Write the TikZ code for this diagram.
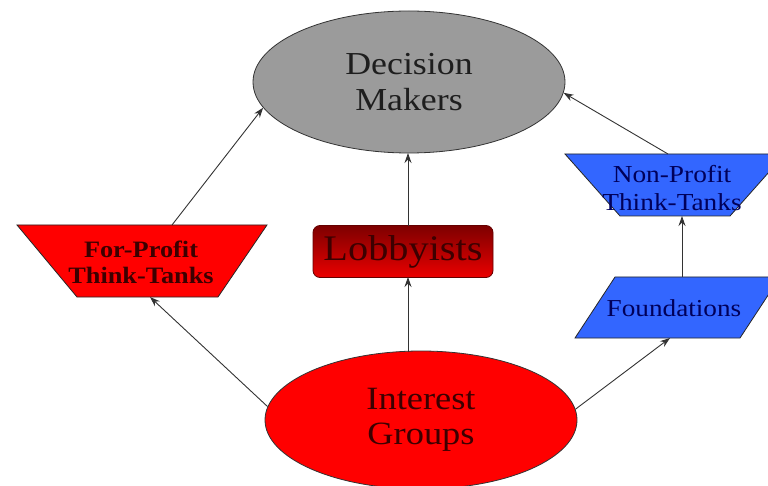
\documentclass[tikz,border=0pt]{standalone}
\usepackage{fontspec}
\setmainfont{Liberation Serif}[FakeStretch=1.12]
\usetikzlibrary{shapes.geometric,arrows.meta}

\definecolor{boxred}{RGB}{255,0,0}
\definecolor{boxblue}{RGB}{51,102,255}
\definecolor{ovalgray}{RGB}{155,155,155}
\definecolor{redink}{RGB}{60,0,0}
\definecolor{blueink}{RGB}{0,0,90}
\definecolor{grayink}{RGB}{30,30,30}
\definecolor{lobbytop}{RGB}{125,0,0}
\definecolor{lobbybot}{RGB}{235,0,0}

\tikzset{
  oval/.style={ellipse, draw=black!80, line width=0.8pt, inner sep=0pt, align=center},
  blockline/.style={draw=black!85, line width=0.8pt},
  label/.style={align=center, inner sep=0pt},
  link/.style={draw=black!80, line width=0.9pt, -{Stealth[length=10pt,width=7pt]}},
}

\begin{document}
\begin{tikzpicture}[x=1pt,y=-1pt]
\useasboundingbox (0,0) rectangle (768,486);

% Decision makers
\node[oval, fill=ovalgray, minimum width=312pt, minimum height=142pt,
      text=grayink, font=\fontsize{32}{36}\selectfont] (dm) at (409,82) {Decision\\Makers};

% Interest groups
\node[oval, fill=boxred, minimum width=312pt, minimum height=138pt,
      text=redink, font=\fontsize{32.5}{35}\selectfont] (ig) at (421,420) {Interest\\Groups};

% For-profit think tanks (inverted trapezium)
\path[blockline, fill=boxred] (17,225) -- (267,225) -- (218,297) -- (77,297) -- cycle;
\coordinate (fptop) at (172,225);
\coordinate (fpbot) at (150,297);
\node[label, text=redink, font=\bfseries\fontsize{23.5}{26}\selectfont] (fp) at (141,262) {For-Profit\\Think-Tanks};

% Lobbyists
\node[draw=lobbytop!80!black, line width=0.8pt, rounded corners=7pt,
      top color=lobbytop, bottom color=lobbybot, minimum width=180pt, minimum height=52pt,
      inner sep=0pt, text=redink, font=\fontsize{36}{40}\selectfont] (lb) at (403,251.5) {Lobbyists};

% Non-profit think tanks (inverted trapezium)
\path[blockline, fill=boxblue] (565,154) -- (785,154) -- (730,216) -- (620,216) -- cycle;
\coordinate (nptop) at (668,154);
\coordinate (npbot) at (682,216);
\node[label, text=blueink, font=\fontsize{24.4}{28}\selectfont] (np) at (672,188) {Non-Profit\\Think-Tanks};

% Foundations (parallelogram)
\path[blockline, fill=boxblue] (615,277) -- (780,277) -- (740,338) -- (575,338) -- cycle;
\coordinate (fdtop) at (682,277);
\coordinate (fdbot) at (670,338);
\node[label, text=blueink, font=\fontsize{24.3}{28}\selectfont] (fd) at (674,308) {Foundations};

% Connectors
\coordinate (lbtop) at (408,226);
\coordinate (lbbot) at (408,277);
\coordinate (dmbot) at (408,153);
\coordinate (igtop) at (408,352);

\draw[link] (ig.175.5) -- (fpbot);
\draw[link] (fptop) -- (dm.190.5);
\draw[link] (igtop) -- (lbbot);
\draw[link] (lbtop) -- (dmbot);
\draw[link] (ig.4.5) -- (fdbot);
\draw[link] (fdtop) -- (npbot);
\draw[link] (nptop) -- (dm.356);
\end{tikzpicture}
\end{document}
